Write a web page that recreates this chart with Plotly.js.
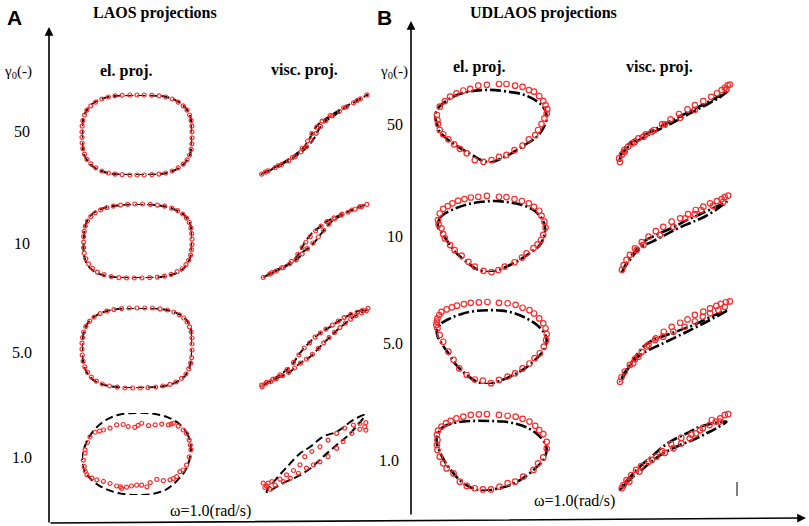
<!DOCTYPE html>
<html><head><meta charset="utf-8">
<script src="https://cdn.plot.ly/plotly-3.0.1.min.js"></script>
<style>html,body{margin:0;padding:0;background:#fff}#chart{width:809px;height:526px}</style>
</head><body><div id="chart"></div>
<script>
// ---------- data: normalized (strain, stress) readings per panel ----------
// LAOS, elastic projections
const AEL50_LINE=[[1,0],[0.99,0.3],[0.96,0.5],[0.87,0.7],[0.79,0.8],[0.65,0.9],[0.5,0.96],[0.3,0.99],[0,1],[-0.3,0.99],[-0.5,0.96],[-0.65,0.9],[-0.79,0.8],[-0.87,0.7],[-0.96,0.5],[-0.99,0.3],[-1,0],[-0.99,-0.3],[-0.96,-0.5],[-0.87,-0.7],[-0.79,-0.8],[-0.65,-0.9],[-0.5,-0.96],[-0.3,-0.99],[0,-1],[0.3,-0.99],[0.5,-0.96],[0.65,-0.9],[0.79,-0.8],[0.87,-0.7],[0.96,-0.5],[0.99,-0.3],[1,0]];
const AEL50_DOTS=[[1,0.08],[0.997,0.22],[0.985,0.36],[0.955,0.5],[0.91,0.62],[0.84,0.73],[0.75,0.82],[0.64,0.9],[0.52,0.95],[0.4,0.978],[0.27,0.993],[0.13,1],[0,1],[-0.13,1],[-0.27,0.993],[-0.4,0.978],[-0.52,0.95],[-0.64,0.9],[-0.75,0.82],[-0.84,0.73],[-0.91,0.62],[-0.955,0.5],[-0.985,0.36],[-0.997,0.22],[-1,0.08],[-1,-0.06],[-0.997,-0.2],[-0.985,-0.34],[-0.955,-0.48],[-0.91,-0.61],[-0.84,-0.72],[-0.75,-0.82],[-0.64,-0.9],[-0.52,-0.95],[-0.4,-0.978],[-0.27,-0.993],[-0.13,-1],[0,-1],[0.13,-1],[0.27,-0.993],[0.4,-0.978],[0.52,-0.95],[0.64,-0.9],[0.75,-0.82],[0.84,-0.73],[0.91,-0.62],[0.955,-0.5],[0.985,-0.36],[0.997,-0.22],[1,-0.07]];
const AEL10_LINE=[[1,0],[0.99,0.3],[0.95,0.52],[0.86,0.7],[0.76,0.8],[0.6,0.9],[0.4,0.96],[0.2,0.99],[0,1],[-0.25,0.98],[-0.45,0.94],[-0.62,0.88],[-0.76,0.79],[-0.86,0.66],[-0.93,0.45],[-0.96,0.2],[-0.97,0],[-0.97,-0.3],[-0.94,-0.52],[-0.86,-0.72],[-0.76,-0.84],[-0.6,-0.93],[-0.4,-0.98],[-0.2,-1],[0.05,-1],[0.3,-0.99],[0.5,-0.96],[0.66,-0.9],[0.8,-0.8],[0.89,-0.67],[0.96,-0.48],[0.99,-0.25],[1,0]];
const AEL10_DOTS=[[1,0.05],[0.995,0.2],[0.98,0.35],[0.95,0.5],[0.9,0.62],[0.83,0.73],[0.74,0.82],[0.63,0.89],[0.5,0.94],[0.37,0.97],[0.24,0.99],[0.1,1],[-0.04,1],[-0.17,0.99],[-0.3,0.97],[-0.43,0.945],[-0.55,0.9],[-0.66,0.84],[-0.76,0.76],[-0.84,0.66],[-0.9,0.54],[-0.94,0.4],[-0.96,0.26],[-0.97,0.12],[-0.97,-0.03],[-0.97,-0.18],[-0.96,-0.33],[-0.93,-0.48],[-0.88,-0.62],[-0.81,-0.74],[-0.72,-0.84],[-0.6,-0.91],[-0.47,-0.96],[-0.33,-0.99],[-0.19,-1],[-0.05,-1],[0.09,-1],[0.23,-0.99],[0.37,-0.975],[0.5,-0.95],[0.62,-0.9],[0.73,-0.83],[0.82,-0.75],[0.89,-0.64],[0.94,-0.52],[0.975,-0.38],[0.99,-0.24],[1,-0.1]];
const AEL5_LINE=[[1,0],[1,0.3],[0.97,0.52],[0.9,0.7],[0.8,0.82],[0.65,0.91],[0.45,0.97],[0.2,1],[-0.05,1],[-0.3,0.98],[-0.5,0.94],[-0.68,0.86],[-0.82,0.74],[-0.92,0.56],[-0.98,0.32],[-1,0.05],[-0.99,-0.25],[-0.95,-0.5],[-0.87,-0.7],[-0.75,-0.84],[-0.58,-0.93],[-0.35,-0.98],[-0.1,-1],[0.15,-0.99],[0.4,-0.97],[0.6,-0.92],[0.75,-0.83],[0.87,-0.7],[0.95,-0.5],[0.99,-0.25],[1,0]];
const AEL5_DOTS=[[1,0.1],[1,0.25],[0.985,0.4],[0.955,0.53],[0.91,0.65],[0.85,0.75],[0.77,0.83],[0.67,0.9],[0.55,0.95],[0.42,0.98],[0.28,1],[0.14,1],[0,1],[-0.14,1],[-0.28,0.985],[-0.42,0.96],[-0.55,0.92],[-0.67,0.86],[-0.78,0.77],[-0.86,0.67],[-0.93,0.54],[-0.97,0.4],[-0.99,0.26],[-1,0.12],[-1,-0.03],[-0.995,-0.18],[-0.98,-0.33],[-0.95,-0.47],[-0.9,-0.61],[-0.83,-0.73],[-0.74,-0.83],[-0.63,-0.9],[-0.5,-0.95],[-0.36,-0.98],[-0.22,-1],[-0.08,-1],[0.06,-1],[0.2,-0.99],[0.34,-0.975],[0.47,-0.95],[0.6,-0.91],[0.71,-0.85],[0.81,-0.76],[0.89,-0.65],[0.94,-0.52],[0.975,-0.38],[0.995,-0.24],[1,-0.05]];
const AEL1_LINE=[[0.98,0.1],[0.93,0.45],[0.78,0.72],[0.55,0.9],[0.25,0.99],[-0.05,1],[-0.35,0.95],[-0.6,0.8],[-0.8,0.55],[-0.93,0.25],[-1,-0.1],[-0.97,-0.35],[-0.85,-0.6],[-0.65,-0.8],[-0.35,-0.95],[0,-1],[0.3,-0.97],[0.55,-0.85],[0.75,-0.62],[0.9,-0.35],[0.98,0.1]];
const AEL1_DOTS=[[-0.945,0.1],[-0.855,0.42],[-0.76,0.53],[-0.61,0.585],[-0.49,0.63],[-0.37,0.71],[-0.25,0.72],[-0.16,0.67],[-0.04,0.65],[0.085,0.75],[0.21,0.69],[0.33,0.71],[0.45,0.73],[0.57,0.71],[0.66,0.75],[0.75,0.68],[0.84,0.585],[0.9,0.5],[0.95,0.34],[0.98,0.1],[0.95,-0.07],[0.9,-0.27],[0.84,-0.39],[0.78,-0.43],[0.72,-0.55],[0.6,-0.63],[0.48,-0.65],[0.36,-0.62],[0.24,-0.7],[0.18,-0.8],[0.085,-0.76],[-0.005,-0.76],[-0.1,-0.78],[-0.19,-0.81],[-0.28,-0.84],[-0.37,-0.78],[-0.49,-0.72],[-0.61,-0.67],[-0.73,-0.63],[-0.82,-0.59],[-0.91,-0.51],[-0.96,-0.31],[-0.975,-0.15],[-0.945,0.02],[-0.9,0.28],[-0.68,0.56],[0.02,0.7],[0.62,0.73],[0.97,0.22],[0.66,-0.6],[-0.3,-0.8],[-0.94,-0.42]];
// LAOS, viscous projections
const AVI50_LINE=[[-0.97,-0.98],[-0.6,-0.74],[-0.3,-0.5],[-0.12,-0.3],[0,-0.1],[0.1,0.15],[0.2,0.32],[0.35,0.45],[0.6,0.68],[0.99,0.98],[0.6,0.7],[0.3,0.46],[0.12,0.3],[0,0.12],[-0.1,-0.15],[-0.22,-0.36],[-0.32,-0.47],[-0.6,-0.72],[-0.97,-0.98]];
const AVI50_DOTS=[[-0.97,-0.98],[-0.85,-0.9],[-0.72,-0.82],[-0.6,-0.74],[-0.47,-0.65],[-0.35,-0.55],[-0.24,-0.43],[-0.14,-0.3],[-0.05,-0.14],[0.04,0.03],[0.12,0.2],[0.22,0.34],[0.34,0.46],[0.47,0.57],[0.6,0.68],[0.73,0.78],[0.86,0.88],[0.98,0.98],[0.8,0.84],[0.55,0.66],[0.3,0.47],[0.15,0.33],[0.05,0.18],[-0.04,0.02],[-0.12,-0.16],[-0.22,-0.34],[-0.4,-0.57],[-0.66,-0.77],[-0.9,-0.93]];
const AVI10_LINE=[[-0.94,-0.965],[-0.756,-0.82],[-0.57,-0.7],[-0.385,-0.54],[-0.26,-0.4],[-0.2,-0.27],[-0.11,-0.18],[0.02,0],[0.14,0.22],[0.26,0.44],[0.36,0.57],[0.6,0.77],[0.79,0.89],[0.975,0.99],[0.79,0.9],[0.6,0.78],[0.39,0.64],[0.23,0.53],[0.11,0.39],[-0.01,0.26],[-0.14,0.04],[-0.23,-0.18],[-0.3,-0.36],[-0.4,-0.52],[-0.57,-0.68],[-0.756,-0.8],[-0.94,-0.965]];
const AVI10_DOTS=[[-0.94,-0.96],[-0.82,-0.87],[-0.7,-0.79],[-0.57,-0.7],[-0.45,-0.6],[-0.33,-0.49],[-0.22,-0.33],[-0.12,-0.19],[-0.02,-0.04],[0.08,0.12],[0.18,0.3],[0.28,0.46],[0.38,0.6],[0.5,0.7],[0.63,0.78],[0.76,0.86],[0.88,0.93],[0.98,0.99],[0.85,0.93],[0.7,0.84],[0.52,0.73],[0.37,0.63],[0.24,0.53],[0.13,0.41],[0.03,0.28],[-0.07,0.13],[-0.15,-0.02],[-0.22,-0.16],[-0.3,-0.34],[-0.42,-0.53],[-0.6,-0.7],[-0.78,-0.83]];
const AVI5_LINE=[[-0.97,-0.95],[-0.69,-0.76],[-0.44,-0.59],[-0.26,-0.38],[-0.07,-0.22],[0.11,0.03],[0.3,0.28],[0.54,0.575],[0.79,0.825],[1,0.97],[0.79,0.91],[0.54,0.74],[0.3,0.53],[0.11,0.37],[-0.07,0.16],[-0.26,-0.13],[-0.44,-0.47],[-0.69,-0.72],[-0.97,-0.95]];
const AVI5_DOTS=[[-0.97,-0.93],[-0.9,-0.9],[-0.8,-0.84],[-0.7,-0.77],[-0.58,-0.69],[-0.47,-0.61],[-0.36,-0.5],[-0.25,-0.38],[-0.14,-0.28],[-0.03,-0.16],[0.08,-0.01],[0.18,0.13],[0.28,0.26],[0.38,0.39],[0.48,0.51],[0.58,0.62],[0.68,0.72],[0.78,0.81],[0.88,0.88],[0.97,0.93],[1,0.99],[0.9,0.95],[0.8,0.9],[0.68,0.84],[0.56,0.76],[0.45,0.67],[0.34,0.57],[0.22,0.47],[0.12,0.38],[0.02,0.27],[-0.08,0.13],[-0.18,0],[-0.28,-0.17],[-0.38,-0.36],[-0.5,-0.54],[-0.63,-0.67],[-0.76,-0.78],[-0.88,-0.86],[-0.96,-0.97]];
const AVI1_LINE=[[-0.88,-0.97],[-0.57,-0.75],[-0.32,-0.59],[-0.07,-0.38],[0.17,-0.08],[0.42,0.215],[0.67,0.51],[0.94,0.975],[0.73,0.85],[0.42,0.55],[0.17,0.43],[-0.07,0.17],[-0.26,0],[-0.5,-0.34],[-0.69,-0.63],[-0.88,-0.97]];
const AVI1_DOTS=[[-0.91,-0.86],[-0.85,-0.75],[-0.78,-0.71],[-0.72,-0.8],[-0.81,-0.91],[-0.88,-0.82],[-0.94,-0.75],[-0.63,-0.65],[-0.51,-0.54],[-0.38,-0.43],[-0.26,-0.29],[-0.17,-0.08],[-0.04,0.05],[0.11,0.17],[0.26,0.34],[0.42,0.51],[0.57,0.64],[0.73,0.72],[0.85,0.76],[0.96,0.78],[0.94,0.68],[0.96,0.59],[0.85,0.61],[0.7,0.51],[0.54,0.3],[0.42,0.13],[0.26,-0.08],[0.11,-0.21],[-0.01,-0.29],[-0.14,-0.37],[-0.29,-0.5],[-0.44,-0.63],[-0.57,-0.71]];
// UDLAOS, elastic projections
const BEL50_LINE=[[-0.98,0.14],[-0.93,0.35],[-0.81,0.51],[-0.63,0.66],[-0.4,0.76],[-0.17,0.8],[0.06,0.8],[0.29,0.76],[0.53,0.7],[0.7,0.6],[0.87,0.43],[0.94,0.27],[0.96,0.1],[0.9,-0.14],[0.79,-0.35],[0.58,-0.555],[0.35,-0.76],[0.15,-0.9],[0,-0.98],[-0.14,-0.95],[-0.34,-0.8],[-0.58,-0.6],[-0.75,-0.43],[-0.9,-0.23],[-0.95,-0.02],[-0.98,0.14]];
const BEL50_DOTS=[[-0.95,0.185],[-0.9,0.39],[-0.81,0.53],[-0.72,0.64],[-0.61,0.72],[-0.49,0.79],[-0.37,0.83],[-0.23,0.91],[-0.08,0.93],[0.13,0.95],[0.26,0.95],[0.41,0.91],[0.54,0.88],[0.65,0.8],[0.74,0.76],[0.83,0.65],[0.9,0.53],[0.94,0.43],[0.97,0.33],[0.96,0.22],[0.92,0.1],[0.87,-0.04],[0.81,-0.185],[0.76,-0.31],[0.65,-0.415],[0.54,-0.57],[0.4,-0.68],[0.26,-0.8],[0.13,-0.85],[0,-0.93],[-0.14,-0.97],[-0.29,-0.93],[-0.43,-0.76],[-0.55,-0.65],[-0.65,-0.54],[-0.75,-0.415],[-0.84,-0.29],[-0.9,-0.185],[-0.93,-0.04],[-0.94,0.06]];
const BEL10_LINE=[[-0.93,0.16],[-0.9,0.38],[-0.81,0.5],[-0.63,0.63],[-0.4,0.74],[-0.17,0.8],[0.06,0.82],[0.29,0.79],[0.53,0.72],[0.73,0.59],[0.87,0.38],[0.93,0.16],[0.92,-0.05],[0.84,-0.31],[0.7,-0.48],[0.53,-0.65],[0.32,-0.82],[0.12,-0.95],[-0.03,-1],[-0.23,-0.95],[-0.4,-0.78],[-0.58,-0.56],[-0.72,-0.31],[-0.84,-0.05],[-0.93,0.16]];
const BEL10_DOTS=[[-0.93,0.33],[-0.9,0.5],[-0.84,0.62],[-0.76,0.69],[-0.68,0.76],[-0.58,0.83],[-0.47,0.87],[-0.36,0.91],[-0.23,0.93],[-0.08,0.95],[0.13,0.93],[0.26,0.92],[0.4,0.87],[0.53,0.82],[0.65,0.76],[0.74,0.67],[0.83,0.57],[0.87,0.44],[0.92,0.29],[0.94,0.14],[0.9,-0.05],[0.86,-0.18],[0.8,-0.29],[0.73,-0.39],[0.61,-0.52],[0.53,-0.63],[0.4,-0.75],[0.23,-0.86],[0.12,-0.95],[0,-1],[-0.14,-0.97],[-0.29,-0.86],[-0.4,-0.74],[-0.52,-0.58],[-0.64,-0.44],[-0.72,-0.31],[-0.81,-0.14],[-0.84,-0.03],[-0.87,0.12],[-0.92,0.22]];
const BEL5_LINE=[[-0.95,0.32],[-0.87,0.48],[-0.72,0.6],[-0.52,0.71],[-0.29,0.78],[-0.06,0.8],[0.18,0.79],[0.41,0.72],[0.61,0.6],[0.79,0.44],[0.9,0.28],[0.96,0.07],[0.91,-0.17],[0.79,-0.37],[0.58,-0.62],[0.38,-0.78],[0.15,-0.92],[-0.06,-1],[-0.26,-0.94],[-0.43,-0.78],[-0.61,-0.54],[-0.75,-0.25],[-0.87,-0.01],[-0.94,0.17],[-0.95,0.32]];
const BEL5_DOTS=[[-0.95,0.52],[-0.94,0.6],[-0.91,0.68],[-0.87,0.76],[-0.78,0.82],[-0.69,0.87],[-0.6,0.91],[-0.48,0.95],[-0.36,0.98],[-0.22,0.99],[-0.07,1],[0.13,0.98],[0.28,0.97],[0.42,0.93],[0.54,0.86],[0.66,0.8],[0.74,0.72],[0.83,0.6],[0.9,0.48],[0.94,0.36],[0.96,0.22],[0.95,0.07],[0.91,-0.09],[0.84,-0.25],[0.75,-0.37],[0.66,-0.5],[0.54,-0.62],[0.41,-0.74],[0.28,-0.82],[0.13,-0.9],[-0.01,-0.98],[-0.15,-0.92],[-0.29,-0.89],[-0.43,-0.78],[-0.56,-0.62],[-0.66,-0.41],[-0.75,-0.21],[-0.84,0.03],[-0.9,0.195],[-0.94,0.36],[-0.96,0.44]];
const BEL1_LINE=[[-0.95,0.39],[-0.87,0.61],[-0.72,0.72],[-0.49,0.78],[-0.26,0.8],[-0.03,0.795],[0.2,0.78],[0.44,0.72],[0.64,0.61],[0.81,0.44],[0.93,0.22],[0.96,0.05],[0.9,-0.205],[0.76,-0.42],[0.55,-0.67],[0.32,-0.85],[0.12,-0.93],[-0.07,-0.99],[-0.26,-0.97],[-0.49,-0.8],[-0.66,-0.55],[-0.81,-0.25],[-0.9,0.01],[-0.95,0.22],[-0.95,0.39]];
const BEL1_DOTS=[[-0.94,0.31],[-0.95,0.44],[-0.93,0.55],[-0.87,0.65],[-0.79,0.74],[-0.71,0.8],[-0.61,0.86],[-0.49,0.905],[-0.36,0.95],[-0.22,0.965],[-0.08,0.97],[0.13,0.95],[0.28,0.93],[0.42,0.905],[0.54,0.85],[0.66,0.78],[0.76,0.67],[0.83,0.56],[0.9,0.46],[0.96,0.26],[0.96,0.09],[0.9,-0.14],[0.81,-0.29],[0.73,-0.46],[0.55,-0.63],[0.41,-0.76],[0.28,-0.8],[0.14,-0.89],[-0.01,-0.96],[-0.15,-0.96],[-0.29,-0.93],[-0.43,-0.87],[-0.55,-0.76],[-0.66,-0.55],[-0.78,-0.42],[-0.84,-0.29],[-0.9,-0.12],[-0.94,0.05],[-0.95,0.18]];
// UDLAOS, viscous projections
const BVI50_LINE=[[-0.965,-0.975],[-0.93,-0.82],[-0.85,-0.655],[-0.73,-0.53],[-0.58,-0.4],[-0.345,-0.23],[-0.05,-0.02],[0.24,0.205],[0.54,0.43],[0.775,0.615],[0.95,0.8],[0.75,0.64],[0.5,0.45],[0.2,0.23],[-0.1,0.01],[-0.38,-0.2],[-0.62,-0.37],[-0.77,-0.5],[-0.88,-0.64],[-0.95,-0.8],[-0.965,-0.975]];
const BVI50_DOTS=[[-0.965,-1],[-0.98,-0.91],[-0.93,-0.81],[-0.89,-0.7],[-0.82,-0.61],[-0.75,-0.53],[-0.64,-0.4],[-0.51,-0.3],[-0.36,-0.19],[-0.22,-0.045],[-0.07,0.08],[0.08,0.215],[0.23,0.33],[0.36,0.44],[0.51,0.54],[0.65,0.65],[0.75,0.74],[0.835,0.82],[0.89,0.88],[0.94,0.94],[0.98,0.96],[0.92,0.84],[0.36,0.32],[0.1,0.12],[-0.17,-0.045],[-0.4,-0.23],[-0.55,-0.36],[-0.7,-0.49],[-0.88,-0.74]];
const BVI10_LINE=[[-0.93,-0.98],[-0.875,-0.84],[-0.79,-0.67],[-0.7,-0.5],[-0.58,-0.33],[-0.4,-0.21],[-0.17,-0.04],[0.06,0.13],[0.3,0.28],[0.54,0.43],[0.775,0.64],[0.92,0.8],[0.71,0.66],[0.47,0.5],[0.24,0.35],[0.01,0.18],[-0.28,-0.01],[-0.52,-0.18],[-0.67,-0.4],[-0.82,-0.68],[-0.92,-0.95]];
const BVI10_DOTS=[[-0.93,-0.92],[-0.9,-0.8],[-0.85,-0.67],[-0.79,-0.54],[-0.7,-0.375],[-0.58,-0.22],[-0.46,-0.08],[-0.33,0.06],[-0.2,0.17],[-0.05,0.3],[0.1,0.385],[0.24,0.49],[0.375,0.595],[0.51,0.68],[0.63,0.765],[0.75,0.82],[0.835,0.87],[0.89,0.92],[0.95,0.96],[0.86,0.8],[0.68,0.7],[0.47,0.595],[0.36,0.49],[0.19,0.385],[-0.02,0.17],[-0.26,-0.04],[-0.55,-0.29],[-0.67,-0.42]];
const BVI5_LINE=[[-0.965,-1],[-0.905,-0.85],[-0.82,-0.64],[-0.73,-0.48],[-0.61,-0.32],[-0.46,-0.2],[-0.26,-0.07],[-0.02,0.09],[0.22,0.25],[0.45,0.41],[0.69,0.58],[0.95,0.78],[0.62,0.6],[0.33,0.41],[0.1,0.29],[-0.14,0.17],[-0.375,0.05],[-0.55,-0.11],[-0.67,-0.32],[-0.79,-0.56],[-0.905,-0.8],[-0.965,-1]];
const BVI5_DOTS=[[-0.965,-0.97],[-0.94,-0.86],[-0.88,-0.72],[-0.79,-0.56],[-0.7,-0.42],[-0.58,-0.24],[-0.46,-0.07],[-0.33,0.09],[-0.19,0.25],[-0.05,0.37],[0.1,0.47],[0.23,0.55],[0.36,0.66],[0.51,0.74],[0.63,0.82],[0.74,0.88],[0.82,0.93],[0.91,0.97],[0.98,0.99],[0.89,0.86],[0.775,0.78],[0.63,0.7],[0.5,0.62],[0.36,0.5],[0.18,0.37],[-0.02,0.25],[-0.2,0.13],[-0.345,0.05],[-0.49,-0.11],[-0.64,-0.36],[-0.73,-0.52]];
const BVI1_LINE=[[-0.965,-0.97],[-0.85,-0.8],[-0.7,-0.59],[-0.55,-0.42],[-0.375,-0.205],[-0.14,0.01],[0.1,0.18],[0.33,0.31],[0.57,0.48],[0.74,0.61],[0.92,0.78],[0.45,0.65],[0.22,0.48],[-0.02,0.31],[-0.2,0.14],[-0.375,-0.08],[-0.55,-0.29],[-0.73,-0.55],[-0.91,-0.85],[-0.965,-0.97]];
const BVI1_DOTS=[[-0.935,-0.93],[-0.905,-0.85],[-0.85,-0.72],[-0.765,-0.59],[-0.68,-0.46],[-0.59,-0.36],[-0.46,-0.25],[-0.32,-0.12],[-0.17,-0.02],[-0.02,0.095],[0.12,0.22],[0.27,0.35],[0.38,0.48],[0.5,0.61],[0.62,0.69],[0.73,0.78],[0.81,0.86],[0.89,0.95],[0.95,0.97],[0.8,0.78],[0.66,0.82],[0.45,0.56],[0.3,0.45],[0.12,0.36],[-0.06,0.2],[-0.22,0.02],[-0.4,-0.2],[-0.62,-0.5],[-0.8,-0.76]];

// tick labels and titles
const AMPLITUDES=['50','10','5.0','1.0'];
const COLUMN_TITLES=['el. proj.','visc. proj.'];
const PANEL_TITLES=['LAOS projections','UDLAOS projections'];
const FREQ_LABEL='\u03c9=1.0(rad/s)';

// ---------- layout geometry (pixels) ----------
const W=809,H=526;
const colsX={AEL:[82,192],AVI:[260,368],BEL:[434,549],BVI:[618,731]};
const rowsY={AEL:[[95,175],[204,278],[308,388],[413,495]],AVI:[[94,175],[204,279],[308,388],[414,493]],BEL:[[82,163],[194,272],[302,384],[413,491]],BVI:[[83,162],[194,273],[301,383],[413,491]]};
const sets={
 AEL:[[AEL50_LINE,AEL50_DOTS],[AEL10_LINE,AEL10_DOTS],[AEL5_LINE,AEL5_DOTS],[AEL1_LINE,AEL1_DOTS]],
 AVI:[[AVI50_LINE,AVI50_DOTS],[AVI10_LINE,AVI10_DOTS],[AVI5_LINE,AVI5_DOTS],[AVI1_LINE,AVI1_DOTS]],
 BEL:[[BEL50_LINE,BEL50_DOTS],[BEL10_LINE,BEL10_DOTS],[BEL5_LINE,BEL5_DOTS],[BEL1_LINE,BEL1_DOTS]],
 BVI:[[BVI50_LINE,BVI50_DOTS],[BVI10_LINE,BVI10_DOTS],[BVI5_LINE,BVI5_DOTS],[BVI1_LINE,BVI1_DOTS]]
};
const RED='#ff2a2a';
const traces=[];
const layout={width:W,height:H,margin:{l:0,r:0,t:0,b:0},paper_bgcolor:'#fff',plot_bgcolor:'rgba(0,0,0,0)',showlegend:false,annotations:[],shapes:[]};
let idx=0;
Object.keys(sets).forEach(key=>{
  const isA=key[0]==='A';
  sets[key].forEach((pair,r)=>{
    idx++;
    const xs=idx===1?'':String(idx);
    const [x0,x1]=colsX[key],[y0,y1]=rowsY[key][r];
    layout['xaxis'+xs]={domain:[x0/W,x1/W],range:[-1,1],visible:false,fixedrange:true,anchor:'y'+xs};
    layout['yaxis'+xs]={domain:[1-y1/H,1-y0/H],range:[-1,1],visible:false,fixedrange:true,anchor:'x'+xs};
    const [line,dots]=pair;
    traces.push({type:'scatter',mode:'lines',x:line.map(p=>p[0]),y:line.map(p=>p[1]),xaxis:'x'+xs,yaxis:'y'+xs,cliponaxis:false,hoverinfo:'skip',
      line:{color:'#000',width:isA?2:2.6,shape:'spline',smoothing:1,dash:isA?'8px,4px':'11px,3px,2px,3px'}});
    traces.push({type:'scatter',mode:'markers',x:dots.map(p=>p[0]),y:dots.map(p=>p[1]),xaxis:'x'+xs,yaxis:'y'+xs,cliponaxis:false,hoverinfo:'skip',
      marker:{symbol:'circle-open',size:isA?4:5.5,color:RED,line:{color:RED,width:isA?1.2:1.2}}});
  });
});

// ---------- text ----------
function px(x){return x/W;} function py(y){return 1-y/H;}
const serif='"Liberation Serif","Times New Roman",serif';
function txt(t,x,y,size,bold,family){layout.annotations.push({text:bold?'<b>'+t+'</b>':t,x:px(x),y:py(y),xref:'paper',yref:'paper',showarrow:false,xanchor:'center',yanchor:'middle',font:{family:family||serif,size:size,color:'#000'}});}
txt('A',15,17,21,true,'"Liberation Sans",Arial,sans-serif');
txt('B',384,17,21,true,'"Liberation Sans",Arial,sans-serif');
txt(PANEL_TITLES[0],155,13,16,true);
txt(PANEL_TITLES[1],543,13,16,true);
txt('\u03b3<sub>0</sub>(-)',18,72,15,false);
txt('\u03b3<sub>0</sub>(-)',394,72,15,false);
txt(COLUMN_TITLES[0],126,71,16,true);
txt(COLUMN_TITLES[1],304,70,16,true);
txt(COLUMN_TITLES[0],479,67,16,true);
txt(COLUMN_TITLES[1],659,67,16,true);
const aTickY=[132,243,352,457],bTickY=[124,236,343,460],bTickX=[395,395,393,389];
AMPLITUDES.forEach((t,i)=>{txt(t,22,aTickY[i],16,false);txt(t,bTickX[i],bTickY[i],16,false);});
txt(FREQ_LABEL,210,511,16,false);
txt(FREQ_LABEL,574,501,16,false);

// ---------- arrows ----------
function arrow(tx,ty,fx,fy){layout.annotations.push({x:px(tx),y:py(ty),xref:'paper',yref:'paper',ax:fx-tx,ay:fy-ty,text:'',showarrow:true,arrowhead:2,arrowsize:1.1,arrowwidth:1.6,arrowcolor:'#000',standoff:0,startstandoff:0});}
arrow(49,27,49,524);
arrow(411,21,411,516);
arrow(806,518,49,523);
layout.shapes.push({type:'line',xref:'paper',yref:'paper',x0:px(737),x1:px(737),y0:py(482),y1:py(496),line:{color:'#000',width:1}});

Plotly.newPlot('chart',traces,layout,{staticPlot:true,displayModeBar:false});
</script></body></html>
